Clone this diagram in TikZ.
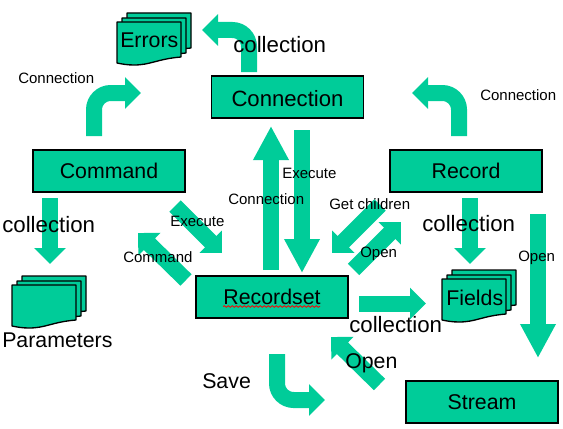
\documentclass[tikz,border=0pt]{standalone}
\usepackage{fontspec}
\setmainfont{Liberation Sans}
\usetikzlibrary{arrows.meta,decorations.pathmorphing}
\definecolor{adogreen}{HTML}{00CC99}
\tikzset{
  objbox/.style   ={draw=black,fill=adogreen,line width=1pt,align=center,inner sep=0pt,minimum width=114pt,minimum height=31.5pt,text height=13pt,text depth=2.5pt,font=\fontsize{16}{18}\selectfont},
  sheet/.style    ={draw=black,fill=adogreen,line width=1pt,line join=round},
  shortarr/.style ={-{Triangle[length=12pt,width=23pt]},line width=12pt,draw=adogreen},
  longarr/.style  ={-{Triangle[length=25.5pt,width=25pt]},line width=12pt,draw=adogreen},
  bendarr/.style  ={shortarr,rounded corners=12.5pt},
  biglbl/.style   ={anchor=base west,inner sep=0pt,font=\fontsize{16}{18}\selectfont},
  collbl/.style   ={biglbl,font=\fontsize{16.7}{18}\selectfont},
  smalllbl/.style ={anchor=base west,inner sep=0pt,font=\fontsize{11.25}{13}\selectfont},
  docsheet/.pic   ={\draw[sheet] (0,0) -- (64,0) -- (64,35) .. controls (40,37) and (34,43) .. (17,43) .. controls (10,43) and (5,42) .. (0,41) -- cycle;},
  docstack/.pic   ={\pic at (10,-9) {docsheet}; \pic at (5,-4) {docsheet}; \pic at (0,0) {docsheet};},
}
\begin{document}
\begin{tikzpicture}[x=0.75pt,y=-0.75pt]
  \useasboundingbox (0,0) rectangle (563,428);

  \node[objbox,text height=16pt,font=\fontsize{16.6}{18}\selectfont] (conn)  at (287.5,97) {Connection};
  \node[objbox] (cmd)   at (109,171)  {Command};
  \node[objbox] (rec)   at (466,171)  {Record};
  \node[objbox] (rset)  at (272,297)  {Recordset};
  \node[objbox] (strm)  at (482,402)  {Stream};

  \pic at (117,22) {docstack};
  \pic at (12,285) {docstack};
  \pic at (442,279) {docstack};
  \node[biglbl] (errs) at (120,48)  {Errors};
  \node[biglbl] (flds) at (446,305) {Fields};

  \coordinate (wavyl) at (223,306.5);
  \coordinate (wavyr) at (320,306.5);
  \draw[red,line width=0.6pt,decorate,decoration={snake,amplitude=0.6pt,segment length=3pt}] (wavyl) -- (wavyr);

  \coordinate (connout)  at (249,72);
  \coordinate (errsin)   at (202,30);
  \coordinate (cmdout)   at (94,136);
  \coordinate (cmdend)   at (141,93);
  \coordinate (recout)   at (459,136);
  \coordinate (recend)   at (412,93);
  \coordinate (rsetup)   at (271,270);
  \coordinate (connin)   at (271,126);
  \coordinate (connex)   at (302,130);
  \coordinate (rsetin)   at (302,273);
  \coordinate (cmdcol)   at (50,198);
  \coordinate (parmin)   at (50,264);
  \coordinate (cmdex)    at (175,206);
  \coordinate (rsetex)   at (222,253);
  \coordinate (rsetcmd)  at (186,280);
  \coordinate (cmdbk)    at (138,233);
  \coordinate (recget)   at (380,205);
  \coordinate (rsetget)  at (332,253);
  \coordinate (rsetop)   at (353.5,269.5);
  \coordinate (recop)    at (401,222);
  \coordinate (rsetcol)  at (359,303.5);
  \coordinate (fldsin)   at (426,303.5);
  \coordinate (reccol)   at (470,198);
  \coordinate (fldstop)  at (470,264);
  \coordinate (recopen)  at (538,214);
  \coordinate (strmin)   at (538,358);
  \coordinate (strmop)   at (379.5,384.5);
  \coordinate (rsetbk)   at (331,337);
  \coordinate (rsetsv)   at (277,354);
  \coordinate (saveend)  at (325,400);

  \draw[bendarr] (connout) |- (errsin);
  \draw[bendarr] (cmdout) |- (cmdend);
  \draw[bendarr] (recout) |- (recend);
  \draw[longarr] (rsetup) -- (connin);
  \draw[longarr] (connex) -- (rsetin);
  \draw[shortarr] (cmdcol) -- (parmin);
  \draw[shortarr] (cmdex) -- (rsetex);
  \draw[shortarr] (rsetcmd) -- (cmdbk);
  \draw[shortarr] (recget) -- (rsetget);
  \draw[shortarr] (rsetop) -- (recop);
  \draw[shortarr] (rsetcol) -- (fldsin);
  \draw[shortarr] (reccol) -- (fldstop);
  \draw[longarr] (recopen) -- (strmin);
  \draw[shortarr] (strmop) -- (rsetbk);
  \draw[bendarr] (rsetsv) |- (saveend);

  \node[collbl] (l1)  at (233,53)  {collection};
  \node[smalllbl] (l2)  at (18,84)   {Connection};
  \node[smalllbl] (l3)  at (480,100) {Connection};
  \node[smalllbl] (l4)  at (282,178) {Execute};
  \node[smalllbl] (l5)  at (228,204) {Connection};
  \node[smalllbl] (l6)  at (329,209) {Get children};
  \node[collbl] (l7)  at (422,231) {collection};
  \node[smalllbl] (l8)  at (360,257) {Open};
  \node[smalllbl] (l9)  at (518,261) {Open};
  \node[collbl] (l10) at (2,232)   {collection};
  \node[smalllbl] (l11) at (170,226) {Execute};
  \node[smalllbl] (l12) at (123,262) {Command};
  \node[biglbl] (l13) at (2,347)   {Parameters};
  \node[biglbl] (l14) at (202,388) {Save};
  \node[collbl] (l15) at (349,332) {collection};
  \node[biglbl] (l16) at (345,368) {Open};
\end{tikzpicture}
\end{document}
